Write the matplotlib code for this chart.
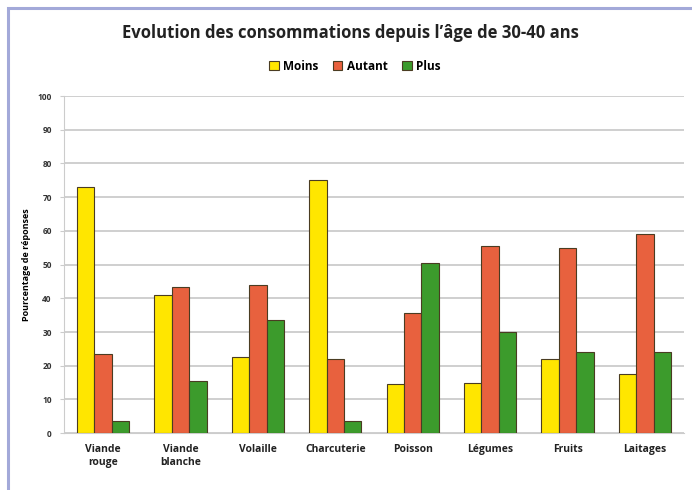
import numpy as np
import matplotlib
matplotlib.use("Agg")
from matplotlib import pyplot as plt
from matplotlib import patches as patches

categories = ["Viande\nrouge", "Viande\nblanche", "Volaille", "Charcuterie",
              "Poisson", "Légumes", "Fruits", "Laitages"]
moins = [73, 41, 22.5, 75, 14.5, 15, 22, 17.5]
autant = [23.5, 43.5, 44, 22, 35.5, 55.5, 55, 59]
plus = [3.5, 15.5, 33.5, 3.5, 50.5, 30, 24, 24]
series_names = ["Moins", "Autant", "Plus"]
colors = ["#ffe600", "#e8613e", "#3c9b2c"]

plt.rcParams["font.family"] = ["Open Sans", "DejaVu Sans"]

fig = plt.figure(figsize=(6.92, 4.90), dpi=100)
ax = fig.add_axes([0.093, 0.116, 0.895, 0.688])

# light blue frame on top and left
fig.add_artist(patches.Rectangle((0.0115, -0.05), 1.5, 1.034, transform=fig.transFigure,
                                 fill=False, edgecolor="#a3a9d9", linewidth=2.2))

x = np.arange(len(categories))
w = 0.225
for i, (vals, name, c) in enumerate(zip([moins, autant, plus], series_names, colors)):
    ax.bar(x + (i - 1) * w, vals, w, color=c, edgecolor="#4a3c22", linewidth=0.8,
           label=name, zorder=3)

ax.set_xlim(-0.5, len(categories) - 0.5)
ax.set_ylim(0, 100)
ax.set_yticks(range(0, 101, 10))
ax.yaxis.grid(True, color="#cfcfcf", linewidth=1.4, zorder=0)
ax.set_axisbelow(True)
for s in ["top", "right"]:
    ax.spines[s].set_visible(False)
ax.spines["left"].set_color("#cccccc")
ax.spines["bottom"].set_color("#cccccc")
ax.tick_params(axis="y", labelsize=6, labelcolor="#333333", length=3, color="#cccccc", pad=6)
ax.tick_params(axis="x", labelsize=7.5, length=0, pad=8)
for lab in ax.get_yticklabels():
    lab.set_fontweight("bold")
ax.set_xticks(x)
ax.set_xticklabels(categories, fontweight="bold", color="#222222")
ax.set_ylabel("Pourcentage de réponses", fontsize=6.5, fontweight="bold", labelpad=5)

fig.text(0.506, 0.932, "Evolution des consommations depuis l\u2019âge de 30-40 ans",
         ha="center", va="center", fontsize=12, fontweight="bold", color="#222222")
fig.legend(loc="center", bbox_to_anchor=(0.513, 0.865), ncol=3, frameon=False,
           prop={"weight": "bold", "size": 8.5}, handlelength=0.8,
           handleheight=0.8, columnspacing=1.2, handletextpad=0.4)

fig.savefig("out.png", dpi=100)
